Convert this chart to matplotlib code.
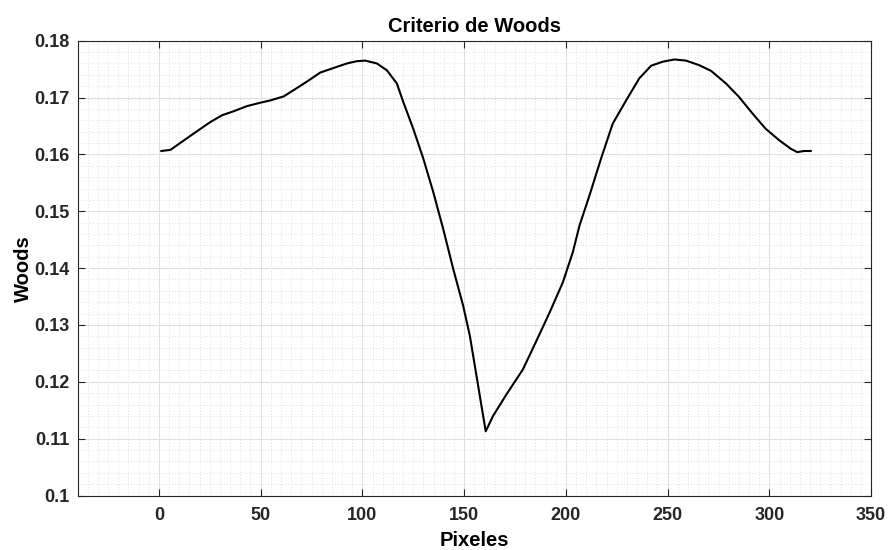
import numpy as np
import matplotlib
matplotlib.use("Agg")
import matplotlib.pyplot as plt
from matplotlib.ticker import MultipleLocator

plt.rcParams.update({'font.family': 'Liberation Sans', 'font.weight': 'bold'})

# values
pixeles = [1.2, 5.7, 12.4, 18.8, 25.3, 31.1, 36.8, 43.3, 49.9, 54.8, 61.3, 66.2,
           72.7, 79.3, 85.8, 92.4, 97.3, 101.3, 107.1, 112, 116.9, 120.1, 125,
           129.9, 134.8, 139.7, 144.6, 149.5, 152.8, 156.1, 158.5, 160.6, 164.2,
           170.8, 178.9, 185.5, 192, 198.5, 203.4, 206.7, 211.6, 217.3, 223,
           229.6, 236.1, 241.9, 247.5, 253.3, 259, 265.5, 271.3, 278.6, 285.1,
           291.7, 298.2, 304.8, 310.5, 313.7, 317, 320.3]
woods = [0.1606, 0.1608, 0.1625, 0.1641, 0.1657, 0.1669, 0.1676, 0.1685, 0.1691,
         0.1695, 0.1702, 0.1713, 0.1728, 0.1744, 0.1752, 0.1760, 0.1764, 0.1765,
         0.1760, 0.1748, 0.1725, 0.1692, 0.1645, 0.1593, 0.1534, 0.1469, 0.1399,
         0.1334, 0.1281, 0.1210, 0.1158, 0.1113, 0.1140, 0.1178, 0.1222, 0.1272,
         0.1322, 0.1375, 0.1428, 0.1475, 0.1528, 0.1593, 0.1654, 0.1695, 0.1734,
         0.1756, 0.1763, 0.1767, 0.1765, 0.1757, 0.1747, 0.1725, 0.1701, 0.1672,
         0.1645, 0.1625, 0.1610, 0.1604, 0.1606, 0.1606]

fig = plt.figure(figsize=(8.88, 5.5), dpi=100)
ax = fig.add_axes([0.0873, 0.099, 0.8937, 0.827])
ax.plot(pixeles, woods, color='black', lw=1.5)

ax.set_xlim(-40, 350)
ax.set_ylim(0.1, 0.18)
ax.xaxis.set_major_locator(MultipleLocator(50))
ax.xaxis.set_minor_locator(MultipleLocator(5))
ax.yaxis.set_minor_locator(MultipleLocator(0.002))
ax.set_yticks(np.arange(0.1, 0.1801, 0.01))
ax.set_yticklabels(['0.1'] + [f'{v:.2f}' for v in np.arange(0.11, 0.1801, 0.01)])

ax.grid(which='major', color='#e0e0e0', lw=0.8)
ax.grid(which='minor', color='#d6d6d6', lw=0.6, ls=(0, (1, 2.5)))
ax.set_axisbelow(True)
ax.tick_params(which='major', direction='in', length=5, width=0.8, color='#262626',
               top=True, right=True, labelsize=13, labelcolor='#262626')
ax.tick_params(axis='x', pad=8)
ax.tick_params(axis='y', pad=6)
ax.tick_params(which='minor', length=0)
for s in ax.spines.values():
    s.set_color('#262626'); s.set_linewidth(0.8)

ax.set_title('Criterio de Woods', fontsize=14.5, fontweight='bold', pad=6)
ax.set_xlabel('Pixeles', fontsize=14.5, fontweight='bold', labelpad=5)
ax.set_ylabel('Woods', fontsize=14.5, fontweight='bold', labelpad=1)

fig.savefig('out.png', dpi=100, facecolor='white')
